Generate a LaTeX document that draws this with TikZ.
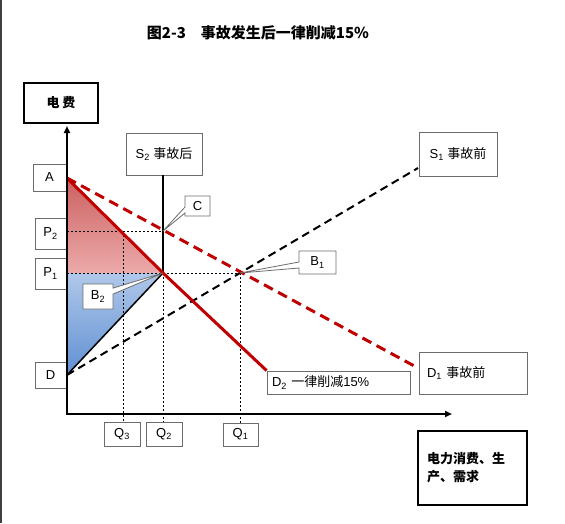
\documentclass[tikz,border=0pt]{standalone}
\usepackage{fontspec}
\setmainfont{Liberation Sans}
\newfontfamily\cjk{Noto Sans CJK SC}
\usepackage{tikz}
\usetikzlibrary{arrows.meta,positioning,shapes.callouts}
\definecolor{dred}{RGB}{192,0,0}
\definecolor{rtop}{RGB}{204,96,96}
\definecolor{rmid}{RGB}{196,72,72}
\definecolor{rbot}{RGB}{236,170,170}
\definecolor{btop}{RGB}{176,200,234}
\definecolor{bmid}{RGB}{68,118,192}
\definecolor{bbot}{RGB}{96,144,210}

\begin{document}
\begin{tikzpicture}[x=1pt,y=-1pt,
  lbl/.style={draw=gray!85!black, fill=white, line width=0.8pt, inner sep=2pt,
    font=\fontsize{13}{15}\selectfont},
  callbox/.style={lbl, rectangle callout, callout pointer width=6pt},
  bigbox/.style={draw=black, line width=2pt, fill=white, font=\fontsize{13}{18}\selectfont\cjk\bfseries},
  guide/.style={black, line width=0.5pt, dash pattern=on 2pt off 2pt},
  axis/.style={black, line width=2.4pt, {Triangle[length=7pt,width=6pt]}-{Triangle[length=7pt,width=6pt]}},
  demand/.style={dred, line width=3pt},
  supply/.style={black, line width=2pt, dash pattern=on 8pt off 5pt}]
\useasboundingbox (0,0) rectangle (565,523);
\draw [black!75, line width=2pt] (1,0) -- (1,523);

% points
\coordinate (orig) at (67,414);
\coordinate (ytip) at (67,126);
\coordinate (xtip) at (452,414);
\coordinate (ptA) at (67,178);
\coordinate (ptD) at (67,375);
\coordinate (ptB2) at (163,273);
\coordinate (ptC) at (163,231);
\coordinate (ptB1) at (240,273);
\coordinate (ptP1) at (67,273);
\coordinate (ptP2) at (67,231);
\coordinate (ptQ3) at (123,231);

% title
\node (title) at (258,33) {\fontsize{15}{17}\selectfont\cjk\bfseries 图2-3\quad 事故发生后一律削减15\%};

% shaded areas
\fill [top color=rtop, middle color=rmid, bottom color=rbot] (ptA) -- (ptB2) -- (ptP1) -- cycle;
\fill [top color=btop, middle color=bmid, bottom color=bbot] (ptP1) -- (ptB2) -- (ptD) -- cycle;

% labels
\node [bigbox, minimum width=74pt, minimum height=40pt] (yname) at (61,103) {电 费};
\node [bigbox, minimum width=109pt, minimum height=74pt, text width=91pt, align=left, inner xsep=9pt] (xname) at (472.5,468) {电力消费、生\\产、需求};

\node [lbl, minimum width=33pt, minimum height=27pt] (lblA) at (49.5,177.5) {A};
\node [lbl, minimum width=31pt, minimum height=31pt] (lblP2) at (50.5,233.5) {P\textsubscript{2}};
\node [lbl, minimum width=31pt, minimum height=31pt] (lblP1) at (50.5,273.5) {P\textsubscript{1}};
\node [lbl, minimum width=31pt, minimum height=26pt] (lblD) at (50.5,375) {D};
\node [lbl, minimum width=36pt, minimum height=24pt] (lblQ3) at (122,434) {Q\textsubscript{3}};
\node [lbl, minimum width=36pt, minimum height=24pt] (lblQ2) at (164,434) {Q\textsubscript{2}};
\node [lbl, minimum width=35pt, minimum height=23pt] (lblQ1) at (240.5,434.5) {Q\textsubscript{1}};
\node [lbl, minimum width=76pt, minimum height=42pt] (lblS2) at (164,154) {S\textsubscript{2} {\cjk 事故后}};
\node [lbl, minimum width=78pt, minimum height=44pt] (lblS1) at (458,154) {S\textsubscript{1} {\cjk 事故前}};
\node [lbl, minimum height=42pt, text width=92pt, align=left, inner xsep=8pt] (lblD1) at (473,373) {D\textsubscript{1} {\cjk 事故前}};
\node [lbl, minimum height=23pt, text width=133pt, align=left, inner xsep=5pt] (lblD2) at (338.5,382.5) {D\textsubscript{2} {\cjk 一律削减}15\%};

\coordinate (s1end) at (418,168);
\coordinate (d1end) at (418,368);

% guide lines
\draw [guide] (ptP2) -- (ptC);
\draw [guide] (ptP1) -- (ptB1);
\draw [guide] (ptQ3) -- (lblQ3.north -| ptQ3);
\draw [guide] (ptB2) -- (lblQ2.north -| ptB2);
\draw [guide] (ptB1) -- (lblQ1.north -| ptB1);

% curves
\draw [supply] (ptD) -- (s1end); % S1
\draw [black, line width=2pt] (lblS2.south -| ptB2) -- (ptB2); % S2
\draw [black, line width=1.5pt] (ptD) -- (ptB2);
\draw [demand, dash pattern=on 10pt off 6pt] (ptA) -- (d1end); % D1
\draw [demand] (ptA) -- (ptB2) -- (lblD2.north west); % D2

\draw [axis] (ytip) -- (orig) -- (xtip);

% callouts
\node [callbox, minimum width=25pt, minimum height=20pt, callout absolute pointer={(ptC)}] (lblC) at (197.5,206) {C};
\node [callbox, minimum width=37pt, minimum height=23pt, callout absolute pointer={(ptB1)}] (lblB1) at (317.5,262.5) {B\textsubscript{1}};
\node [callbox, minimum width=30pt, minimum height=25pt, callout absolute pointer={(ptB2)}] (lblB2) at (98,296.5) {B\textsubscript{2}};
\end{tikzpicture}
\end{document}
